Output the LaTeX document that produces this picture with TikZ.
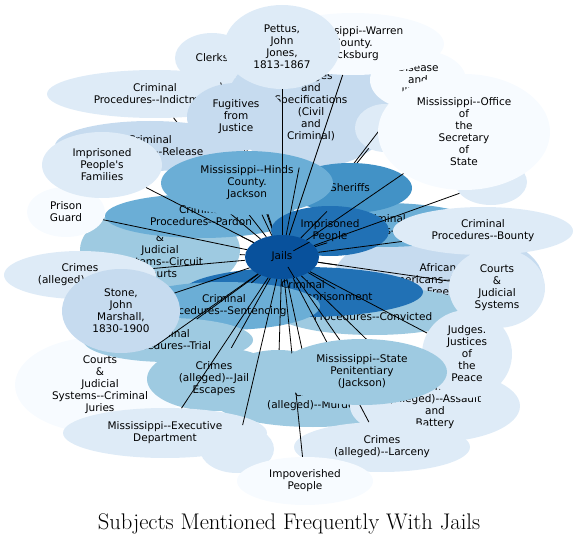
\documentclass[tikz,border=0pt]{standalone}
\usepackage{fontspec}
\newfontfamily\labelfont{DejaVu Sans}
\usepackage{xcolor}
\usetikzlibrary{shapes.geometric}

\definecolor{blues1}{HTML}{F7FBFF}
\definecolor{blues2}{HTML}{DEEBF7}
\definecolor{blues3}{HTML}{C6DBEF}
\definecolor{blues4}{HTML}{9ECAE1}
\definecolor{blues5}{HTML}{6BAED6}
\definecolor{blues6}{HTML}{4292C6}
\definecolor{blues7}{HTML}{2171B5}
\definecolor{blues8}{HTML}{08519C}

\pgfdeclarelayer{lower}
\pgfdeclarelayer{linksback}
\pgfdeclarelayer{middle}
\pgfdeclarelayer{links}
\pgfsetlayers{lower,linksback,middle,links,main}

\newcommand{\dblhy}{-\kern0pt-}

\begin{document}
\begin{tikzpicture}[
    x=1pt, y=-1pt,
    font=\labelfont\fontsize{10.5}{12}\selectfont,
        % the subject ellipses
        subj/.style n args={3}{ellipse, fill=#1, draw=none, inner sep=0pt, minimum width=#2pt, minimum height=#3pt, align=center},
        link/.style={black, line width=0.8pt},
        headline/.style={font=\rmfamily\fontsize{22.6}{26}\selectfont, anchor=base}
    ]
    \useasboundingbox (0,0) rectangle (579,543);

    % --- 1. BACK ROW OF SUBJECTS ---
    \begin{pgfonlayer}{lower}
    \node[subj={blues1}{170}{96}] (juries) at (100,385) {Courts\\\&\\Judicial\\Systems\dblhy Criminal\\Juries};
    \node[subj={blues2}{216}{48}] (indict) at (155,94) {Criminal\\Procedures\dblhy Indictment};
    \node[subj={blues2}{74}{50}] (clerks) at (212,58) {Clerks};
    \node[subj={blues3}{170}{124}] (charges) at (311,106) {Charges\\and\\Specifications\\(Civil\\and\\Criminal)};
    \node[subj={blues1}{96}{60}] (disease) at (418,80) {Disease\\and\\Illness};
    \node[subj={blues1}{182}{62}] (warren) at (353,44) {Mississippi\dblhy Warren\\County.\\Vicksburg};
    \node[subj={blues2}{116}{84}] (pettus) at (282,47) {Pettus,\\John\\Jones,\\1813-1867};
    \node[subj={blues2}{60}{48}] (blankA) at (385,128) {};
    \node[subj={blues2}{72}{46}] (blankB) at (491,182) {};
    \node[subj={blues4}{160}{90}] (circuit) at (160,250) {Courts\\\&\\Judicial\\Systems\dblhy Circuit\\Courts};
    \node[subj={blues1}{78}{50}] (guard) at (66,212) {Prison\\Guard};
    \node[subj={blues5}{192}{44}] (pardon) at (201,216) {Criminal\\Procedures\dblhy Pardon};
    \node[subj={blues2}{152}{48}] (arson) at (80,275) {Crimes\\(alleged)\dblhy Arson};
    \node[subj={blues3}{210}{104}] (african) at (438,280) {African\\Americans\dblhy History\\Free};
    \node[subj={blues4}{200}{48}] (convicted) at (373,311) {Criminal\\Procedures\dblhy Convicted};
    \node[subj={blues7}{240}{50}] (imprisonment) at (303,292) {Criminal\\Procedures\dblhy Imprisonment};
    \node[subj={blues5}{192}{48}] (sentencing) at (224,306) {Criminal\\Procedures\dblhy Sentencing};
    \node[subj={blues4}{120}{70}] (blankC) at (278,385) {};
    \node[subj={blues4}{200}{54}] (murder) at (313,400) {Crimes\\(alleged)\dblhy Murder};
    \node[subj={blues4}{134}{64}] (escapes) at (214,379) {Crimes\\(alleged)\dblhy Jail\\Escapes};
    \node[subj={blues4}{170}{44}] (trial) at (168,340) {Criminal\\Procedures\dblhy Trial};
    \node[subj={blues3}{118}{84}] (stone) at (121,311) {Stone,\\John\\Marshall,\\1830-1900};
    \node[subj={blues5}{190}{44}] (arrests) at (384,225) {Criminal\\Procedures\dblhy Arrests};
    \node[subj={blues2}{180}{48}] (bounty) at (483,231) {Criminal\\Procedures\dblhy Bounty};
    \node[subj={blues2}{74}{48}] (blankD) at (237,449) {};
    \node[subj={blues2}{204}{50}] (executive) at (165,433) {Mississippi\dblhy Executive\\Department};
    \node[subj={blues2}{170}{72}] (assault) at (435,406) {Crimes\\(alleged)\dblhy Assault\\and\\Battery};
    \node[subj={blues2}{176}{50}] (larceny) at (382,447) {Crimes\\(alleged)\dblhy Larceny};
    \node[subj={blues1}{136}{48}] (poor) at (305,481) {Impoverished\\People};
    \end{pgfonlayer}

    % --- 2. MIDDLE ROW, AROUND THE HUB ---
    \begin{pgfonlayer}{middle}
    \node[subj={blues3}{190}{50}] (release) at (150,146) {Criminal\\Procedures\dblhy Release};
    \node[subj={blues2}{120}{66}] (families) at (102,165) {Imprisoned\\People's\\Families};
    \node[subj={blues3}{98}{68}] (fugitives) at (236,117) {Fugitives\\from\\Justice};
    \node[subj={blues6}{124}{50}] (sheriffs) at (350,188) {Sheriffs};
    \node[subj={blues5}{172}{64}] (hinds) at (247,183) {Mississippi\dblhy Hinds\\County.\\Jackson};
    \node[subj={blues7}{118}{50}] (imprisoned) at (330,231) {Imprisoned\\People};
    \node[subj={blues8}{74}{44}] (jails) at (282,257) {Jails};
    \end{pgfonlayer}

    % --- 3. FRONT ROW ---
    \node[subj={blues1}{172}{116}] (secretary) at (464,132) {Mississippi\dblhy Office\\of\\the\\Secretary\\of\\State};
    \node[subj={blues2}{96}{80}] (courts) at (497,288) {Courts\\\&\\Judicial\\Systems};
    \node[subj={blues2}{90}{88}] (judges) at (467,354) {Judges.\\Justices\\of\\the\\Peace};
    \node[subj={blues4}{170}{66}] (penitentiary) at (362,372) {Mississippi\dblhy State\\Penitentiary\\(Jackson)};

    % --- 4. LINKS FROM THE HUB ---
    \begin{pgfonlayer}{linksback}
    \foreach \s in {clerks, fugitives, indict, release, disease, blankA}
        \draw[link] (jails) -- (\s);
    \end{pgfonlayer}
    \begin{pgfonlayer}{links}
    \foreach \s in {juries, charges, warren, pettus, blankB, circuit, guard, pardon,
        arson, african, convicted, imprisonment, sentencing, blankC, murder, escapes,
        trial, stone, arrests, bounty, blankD, executive, assault, larceny, poor,
        families, sheriffs, hinds, imprisoned, secretary, courts, judges, penitentiary}
        \draw[link] (jails) -- (\s);
    \end{pgfonlayer}

    % title
    \node[headline] (title) at (289,529) {Subjects Mentioned Frequently With Jails};
\end{tikzpicture}
\end{document}
